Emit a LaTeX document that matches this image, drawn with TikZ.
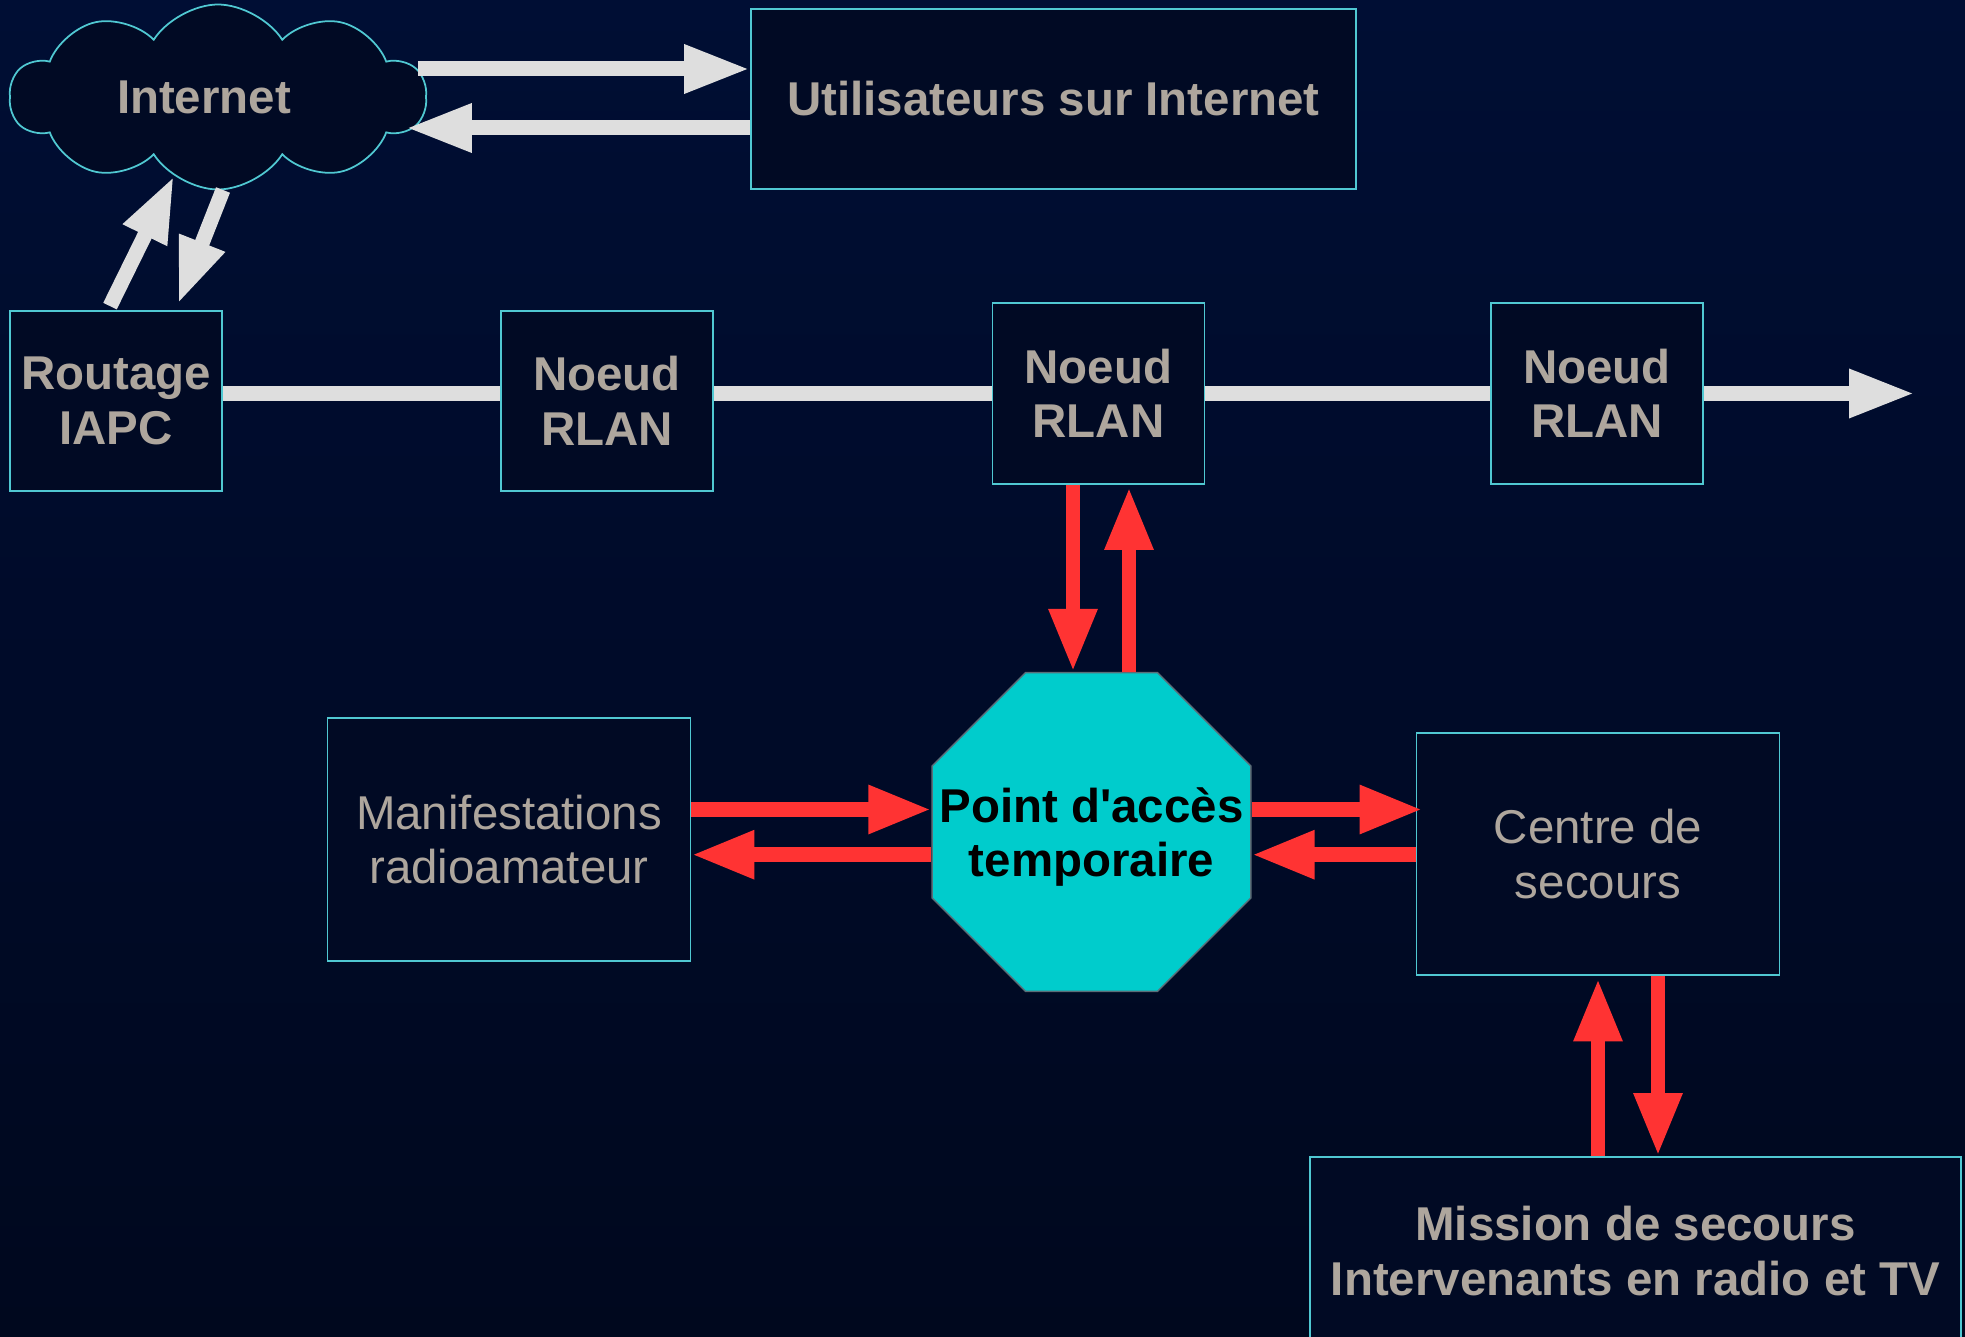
\documentclass[tikz,border=0pt]{standalone}
\usepackage{fontspec}
\setmainfont{Liberation Sans}
\usepackage{tikz}
\usetikzlibrary{arrows.meta,shapes,positioning}
\usetikzlibrary{calc}

\definecolor{fondhaut}{RGB}{0,14,52}
\definecolor{fondbas}{RGB}{0,8,30}
\definecolor{fondboite}{RGB}{1,10,36}
\definecolor{bord}{RGB}{80,200,210}
\definecolor{gristexte}{RGB}{174,166,157}
\definecolor{blanc}{RGB}{222,222,222}
\definecolor{rouge}{RGB}{255,51,51}
\definecolor{turquoise}{RGB}{0,204,204}

\newcommand{\corps}{\fontsize{13.5}{15.5}\selectfont}

\begin{document}
\begin{tikzpicture}[boite/.style={rectangle,draw=bord,line width=0.5pt,fill=fondboite,text=gristexte,font=\bfseries\corps,align=center,inner sep=0pt},
	ligne/.style={draw=blanc,line width=1.5mm},
	fleche/.style={draw=blanc,line width=1.5mm,-{Triangle[length=6.6mm,width=4.5mm]}},
	rfleche/.style={draw=rouge,line width=1.45mm,-{Triangle[length=6.3mm,width=4.5mm]}}]
	\shade[top color=fondhaut,bottom color=fondbas] (0,0) rectangle (19.65,-13.37);
	\useasboundingbox (0,0) rectangle (19.65,-13.37);
	\node[boite,cloud,cloud puffs=10,cloud puff arc=115,cloud ignores aspect,minimum width=4.16cm,minimum height=1.85cm,
		label={[text=gristexte,font=\bfseries\corps,xshift=-1.4mm]center:Internet}]	(inet) at (2.18,-0.97) {};
	\node[boite,minimum width=6.05cm,minimum height=1.80cm]	(util) at (10.535,-0.99) {Utilisateurs sur Internet};
	\node[boite,minimum width=2.12cm,minimum height=1.80cm]	(iapc) at (1.16,-4.01) {Routage\\IAPC};
	\node[boite,minimum width=2.12cm,minimum height=1.80cm]	(rlan1) at (6.07,-4.01) {Noeud\\RLAN};
	\node[boite,minimum width=2.12cm,minimum height=1.81cm]	(rlan2) at (10.985,-3.935) {Noeud\\RLAN};
	\node[boite,minimum width=2.12cm,minimum height=1.81cm]	(rlan3) at (15.97,-3.935) {Noeud\\RLAN};
	\coordinate (fin) at (19.15,-3.935);
	\node[regular polygon,regular polygon sides=8,minimum size=3.45cm,inner sep=0pt,
		fill=turquoise,draw={rgb,255:red,90;green,110;blue,120},line width=0.4pt,
		label={[font=\bfseries\corps,align=center,text=black,yshift=-0.5mm]center:Point d\textquotesingle accès\\temporaire}]	(oct) at (10.915,-8.32) {};
	\node[boite,font=\corps,minimum width=3.63cm,minimum height=2.43cm]	(manif) at (5.09,-8.395) {Manifestations\\radioamateur};
	\node[boite,font=\corps,minimum width=3.63cm,minimum height=2.42cm]	(centre) at (15.98,-8.54) {Centre de\\secours};
	\node[boite,minimum width=6.51cm,minimum height=1.88cm]	(mission) at (16.355,-12.51) {Mission de secours\\Intervenants en radio et TV};

	\draw[fleche] ($(inet.east |- util.west)+(-0.09,0.30)$) -- ($(util.west)+(0,0.30)$);
	\draw[fleche] ($(util.west)+(0,-0.29)$) -- ($(inet.east |- util.west)+(-0.21,-0.29)$);
	\draw[fleche] ($(iapc.north)+(-0.06,0.04)$) -- ($(inet.center)+(-0.44,-0.79)$);
	\draw[fleche] ($(inet.center)+(0.05,-0.93)$) -- ($(iapc.north)+(0.62,0.06)$);

	\draw[ligne] (iapc.east |- rlan2) -- (rlan1.west |- rlan2);
	\draw[ligne] (rlan1.east |- rlan2) -- (rlan2.west);
	\draw[ligne] (rlan2.east) -- (rlan3.west);
	\draw[fleche] (rlan3.east) -- (fin);

	\draw[rfleche] ($(rlan2.south)+(-0.255,0)$) -- ($(rlan2.south |- oct.north)+(-0.255,0)$);
	\draw[rfleche] ($(rlan2.south |- oct.north)+(0.305,0)$) -- ($(rlan2.south)+(0.305,-0.02)$);
	\draw[rfleche] ($(manif.east |- oct)+(0,0.225)$) -- ($(oct.west)+(0,0.225)$);
	\draw[rfleche] ($(oct.west)+(0,-0.227)$) -- ($(manif.east |- oct)+(0,-0.227)$);
	\draw[rfleche] ($(oct.east)+(0,0.225)$) -- ($(centre.west |- oct)+(0.07,0.225)$);
	\draw[rfleche] ($(centre.west |- oct)+(0,-0.227)$) -- ($(oct.east)+(0,-0.227)$);
	\draw[rfleche] (centre.south |- mission.north) -- ($(centre.south)+(0,-0.025)$);
	\draw[rfleche] ($(centre.south)+(0.60,0)$) -- ($(centre.south |- mission.north)+(0.60,0)$);
\end{tikzpicture}
\end{document}
